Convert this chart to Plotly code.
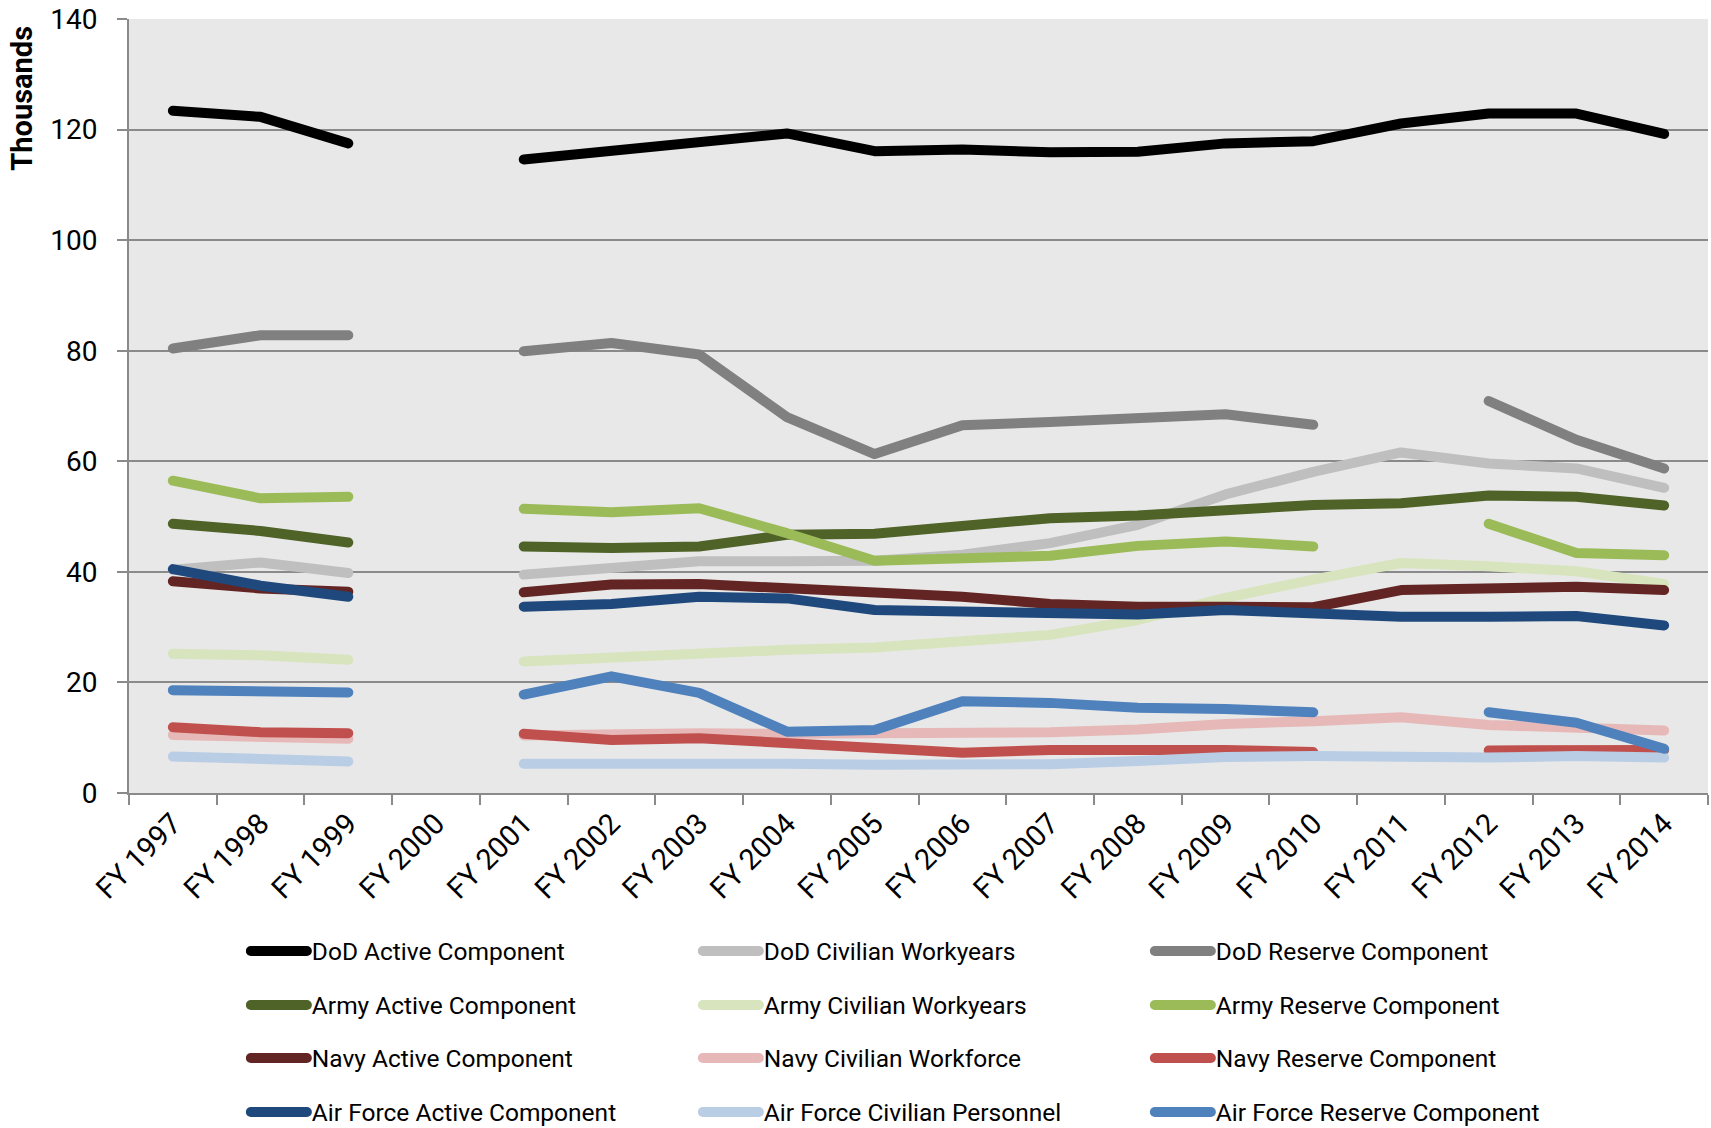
import plotly.graph_objects as go

years = ["FY 1997", "FY 1998", "FY 1999", "FY 2000", "FY 2001", "FY 2002", "FY 2003",
         "FY 2004", "FY 2005", "FY 2006", "FY 2007", "FY 2008", "FY 2009", "FY 2010",
         "FY 2011", "FY 2012", "FY 2013", "FY 2014"]

dod_active = [123.4, 122.3, 117.5, None, 114.6, 116.1, 117.9, 119.3, 116.1, 116.4, 115.9, 116.0, 117.5, 117.9, 121.1, 122.9, 122.9, 119.2]
dod_civilian = [40.4, 41.7, 39.8, None, 39.5, 40.7, 41.9, 41.9, 42.0, 43.1, 45.2, 48.5, 54.0, 58.1, 61.6, 59.6, 58.7, 55.2]
dod_reserve = [80.4, 82.8, 82.8, None, 79.9, 81.4, 79.3, 68.0, 61.3, 66.5, 67.1, 67.8, 68.5, 66.6, None, 70.9, 63.9, 58.7]
army_active = [48.7, 47.4, 45.3, None, 44.6, 44.3, 44.6, 46.7, 46.9, 48.5, 49.7, 50.2, 51.2, 52.1, 52.4, 53.8, 53.6, 52.0]
army_civilian = [25.2, 24.9, 24.1, None, 23.8, 24.5, 25.6, 25.9, 26.3, 27.4, 28.6, 31.3, 35.3, 38.6, 41.6, 41.0, 40.1, 37.8]
army_reserve = [56.5, 53.3, 53.6, None, 51.4, 50.8, 51.5, 47.0, 42.0, 42.5, 42.9, 44.7, 45.5, 44.6, None, 48.7, 43.4, 43.0]
navy_active = [38.3, 37.0, 36.4, None, 36.3, 37.7, 37.8, 37.0, 36.3, 35.5, 34.2, 33.7, 33.7, 33.6, 36.7, 37.2, 37.3, 36.7]
navy_civilian = [10.5, 10.2, 9.8, None, 10.4, 10.7, 10.8, 10.7, 10.7, 10.7, 11.0, 11.5, 12.5, 13.0, 13.7, 12.3, 11.7, 11.3]
navy_reserve = [11.9, 11.0, 10.8, None, 10.7, 9.6, 9.9, 9.0, 8.1, 7.3, 7.8, 7.9, 7.8, 7.4, None, 7.7, 7.8, 7.8]
af_active = [40.5, 37.5, 35.5, None, 33.7, 34.2, 35.5, 35.2, 33.1, 32.8, 32.2, 32.3, 33.1, 32.5, 31.9, 31.9, 32.0, 30.3]
af_civilian = [6.6, 6.0, 5.7, None, 5.3, 5.4, 5.5, 5.3, 5.1, 5.1, 5.2, 5.8, 6.5, 6.7, 6.4, 6.4, 6.7, 6.4]
af_reserve = [18.6, 18.4, 18.2, None, 17.8, 21.1, 18.1, 11.1, 11.4, 16.6, 16.3, 15.4, 15.2, 14.6, None, 14.6, 12.7, 8.0]

series_names = ["DoD Active Component", "DoD Civilian Workyears", "DoD Reserve Component",
                "Army Active Component", "Army Civilian Workyears", "Army Reserve Component",
                "Navy Active Component", "Navy Civilian Workforce", "Navy Reserve Component",
                "Air Force Active Component", "Air Force Civilian Personnel", "Air Force Reserve Component"]
series_values = [dod_active, dod_civilian, dod_reserve,
                 army_active, army_civilian, army_reserve,
                 navy_active, navy_civilian, navy_reserve,
                 af_active, af_civilian, af_reserve]
colors = ["#000000", "#BFBFBF", "#808080",
          "#4F6228", "#D7E4BD", "#9BBB59",
          "#632523", "#E6B9B8", "#C0504D",
          "#1F497D", "#B9CDE5", "#4F81BD"]

FONT = "Roboto, 'Open Sans', sans-serif"
legend_ids = ["legend", "legend2", "legend3", "legend4"]

fig = go.Figure()
for i, (name, vals, col) in enumerate(zip(series_names, series_values, colors)):
    fig.add_trace(go.Scatter(
        x=years, y=vals, name=name, mode="lines",
        line=dict(color=col, width=10),
        connectgaps=False,
        legend=legend_ids[i // 3],
    ))

W, H = 1711, 1128
ml, mr, mt, mb = 129, 3, 19, 335
plot_h = H - mt - mb

def py(ypx):
    return (H - mb - ypx) / plot_h

legend_rows_y = [951, 1005, 1058, 1112]
layout_legends = {}
for lid, ry in zip(legend_ids, legend_rows_y):
    layout_legends[lid] = dict(
        orientation="h", x=0.074, xanchor="left", y=py(ry), yanchor="middle",
        entrywidth=381, entrywidthmode="pixels",
        font=dict(family=FONT, size=24.5, color="#000000"),
        bgcolor="rgba(0,0,0,0)", itemwidth=56, tracegroupgap=0,
    )

fig.update_layout(
    width=W, height=H,
    margin=dict(l=ml, r=mr, t=mt, b=mb, autoexpand=False),
    paper_bgcolor="#FFFFFF",
    plot_bgcolor="#E8E8E8",
    font=dict(family=FONT, color="#000000"),
    showlegend=True,
    **layout_legends,
    xaxis=dict(
        type="category", categoryorder="array", categoryarray=years,
        range=[-0.5, len(years) - 0.5],
        tickson="boundaries", ticks="outside", ticklen=10, tickwidth=2,
        tickcolor="#8A8A8A", showline=True, linecolor="#8A8A8A", linewidth=2,
        showgrid=False, tickangle=-45,
        tickfont=dict(family=FONT, size=29, color="#000000"),
        zeroline=False,
    ),
    yaxis=dict(
        range=[0, 140], dtick=20, tick0=0,
        ticks="outside", ticklen=10, tickwidth=2, tickcolor="#8A8A8A",
        showline=True, linecolor="#8A8A8A", linewidth=2,
        showgrid=True, gridcolor="#8A8A8A", gridwidth=2,
        zeroline=False,
        tickfont=dict(family=FONT, size=28, color="#000000"),
        ticklabelstandoff=14,
    ),
    annotations=[dict(
        text="<b>Thousands</b>", xref="paper", yref="paper",
        x=-0.068, y=py(98), xanchor="center", yanchor="middle",
        textangle=-90, showarrow=False,
        font=dict(family=FONT, size=29, color="#000000"),
    )],
)

post = (
    "document.body.style.margin='0';"
    "document.body.style.overflow='hidden';"
    "document.querySelectorAll('path.js-line').forEach(function(p){"
    "p.style.strokeLinecap='round';p.style.strokeLinejoin='round';});"
)
fig.write_html("out.html", config={"displayModeBar": False}, post_script=post)
